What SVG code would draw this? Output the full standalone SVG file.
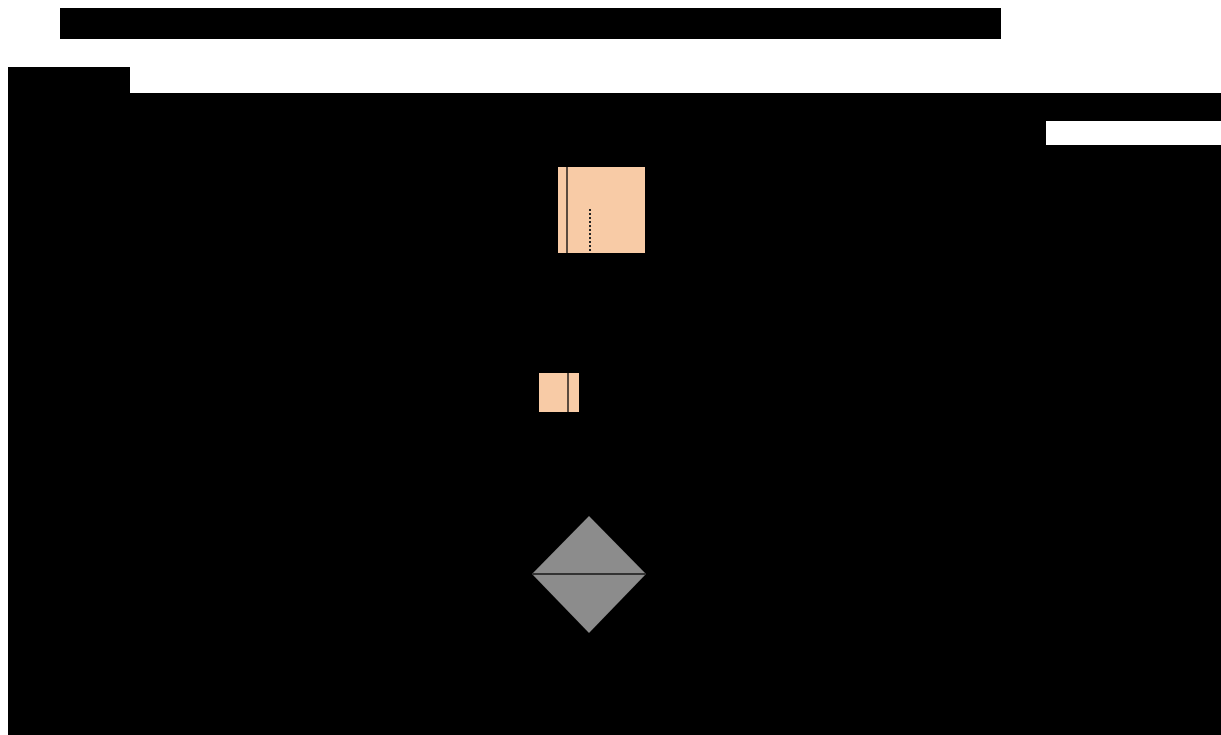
<svg xmlns="http://www.w3.org/2000/svg" width="1221" height="735" viewBox="0 0 1221 735">
<style>
.blk{fill:#000}
.peach{fill:#f8cba6}
.div{stroke:#5a4a3e;stroke-width:2}
</style>
<rect width="1221" height="735" fill="#fff"/>
<g id="background">
<rect class="blk" x="60" y="8" width="941" height="31"/>
<path class="blk" d="M8 67 H130 V93 H1221 V121 H1046 V145 H1221 V735 H8 Z"/>
</g>
<g id="node-top">
<rect class="peach" x="558" y="167" width="87" height="86"/>
<line class="div" x1="567" y1="167" x2="567" y2="253"/>
</g>
<g id="node-mid">
<rect class="peach" x="539" y="373" width="40" height="39"/>
<line class="div" x1="568" y1="373" x2="568" y2="412"/>
</g>
<g id="node-diamond">
<polygon points="589,516 646,574 589,633 532,574" fill="#8c8c8c"/>
<line x1="532" y1="574" x2="646" y2="574" stroke="#333" stroke-width="2"/>
</g>
<g id="connectors">
<line x1="590" y1="209" x2="590" y2="251" stroke="#222" stroke-width="2" stroke-dasharray="2 2"/>
</g>
</svg>
